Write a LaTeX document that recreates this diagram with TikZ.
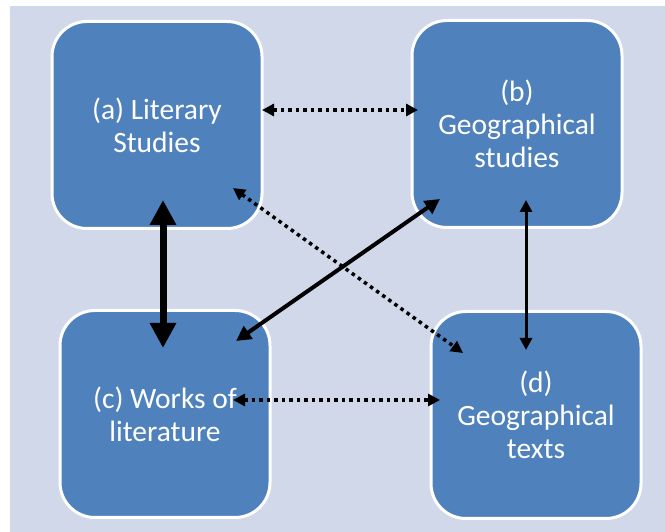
\documentclass[tikz,border=0pt]{standalone}
\usepackage{fontspec}
\setmainfont{Carlito}
\usetikzlibrary{arrows.meta}

\definecolor{bgblue}{RGB}{209,216,234}
\definecolor{boxblue}{RGB}{79,129,189}

\begin{document}
\begin{tikzpicture}[x=1pt,y=1pt,
  field/.style={draw=white, line width=3pt, fill=boxblue, rounded corners=35pt,
    minimum width=210pt, minimum height=207pt, text=white, align=center,
    font=\fontsize{29.5}{33}\selectfont},
  dotlink/.style={line width=3.5pt, dash pattern=on 3.5pt off 4pt,
    {Triangle[width=12pt,length=12pt]}-{Triangle[width=12pt,length=12pt]}},
  boldlink/.style={line width=7pt,
    {Triangle[width=25pt,length=25pt]}-{Triangle[width=25pt,length=25pt]}},
  thinlink/.style={line width=3pt,
    {Triangle[width=12pt,length=12pt]}-{Triangle[width=12pt,length=12pt]}},
  solidlink/.style={line width=4pt,
    {Triangle[width=15pt,length=15pt]}-{Triangle[width=15pt,length=15pt]}}]

\useasboundingbox (0,0) rectangle (665,532);
\fill[bgblue] (10,0) rectangle (665,526);

%% boxes
\node[field] (a) at (157,407) {(a) Literary\\Studies};
\node[field] (b) at (517,408) {(b)\\Geographical\\studies};
\node[field] (c) at (165,118) {(c) Works of\\literature};
\node[field] (d) at (536,117) {(d)\\Geographical\\texts};

%% links
\draw[dotlink] ([shift={(105,15)}]a.center) -- ([shift={(-99,14)}]b.center);    %% ab
\draw[dotlink] ([shift={(68,14)}]c.center) -- ([shift={(-96,15)}]d.center);     %% cd
\draw[boldlink] ([shift={(6,-75)}]a.center) -- ([shift={(-2,66)}]c.center);     %% ac
\draw[thinlink] ([shift={(9,-76)}]b.center) -- ([shift={(-10,65)}]d.center);    %% bd
\draw[solidlink] ([shift={(71,73)}]c.center) -- ([shift={(-77,-75)}]b.center);  %% cb
\draw[dotlink] ([shift={(76,-63)}]a.center) -- ([shift={(-73,62)}]d.center);    %% ad

\end{tikzpicture}
\end{document}
